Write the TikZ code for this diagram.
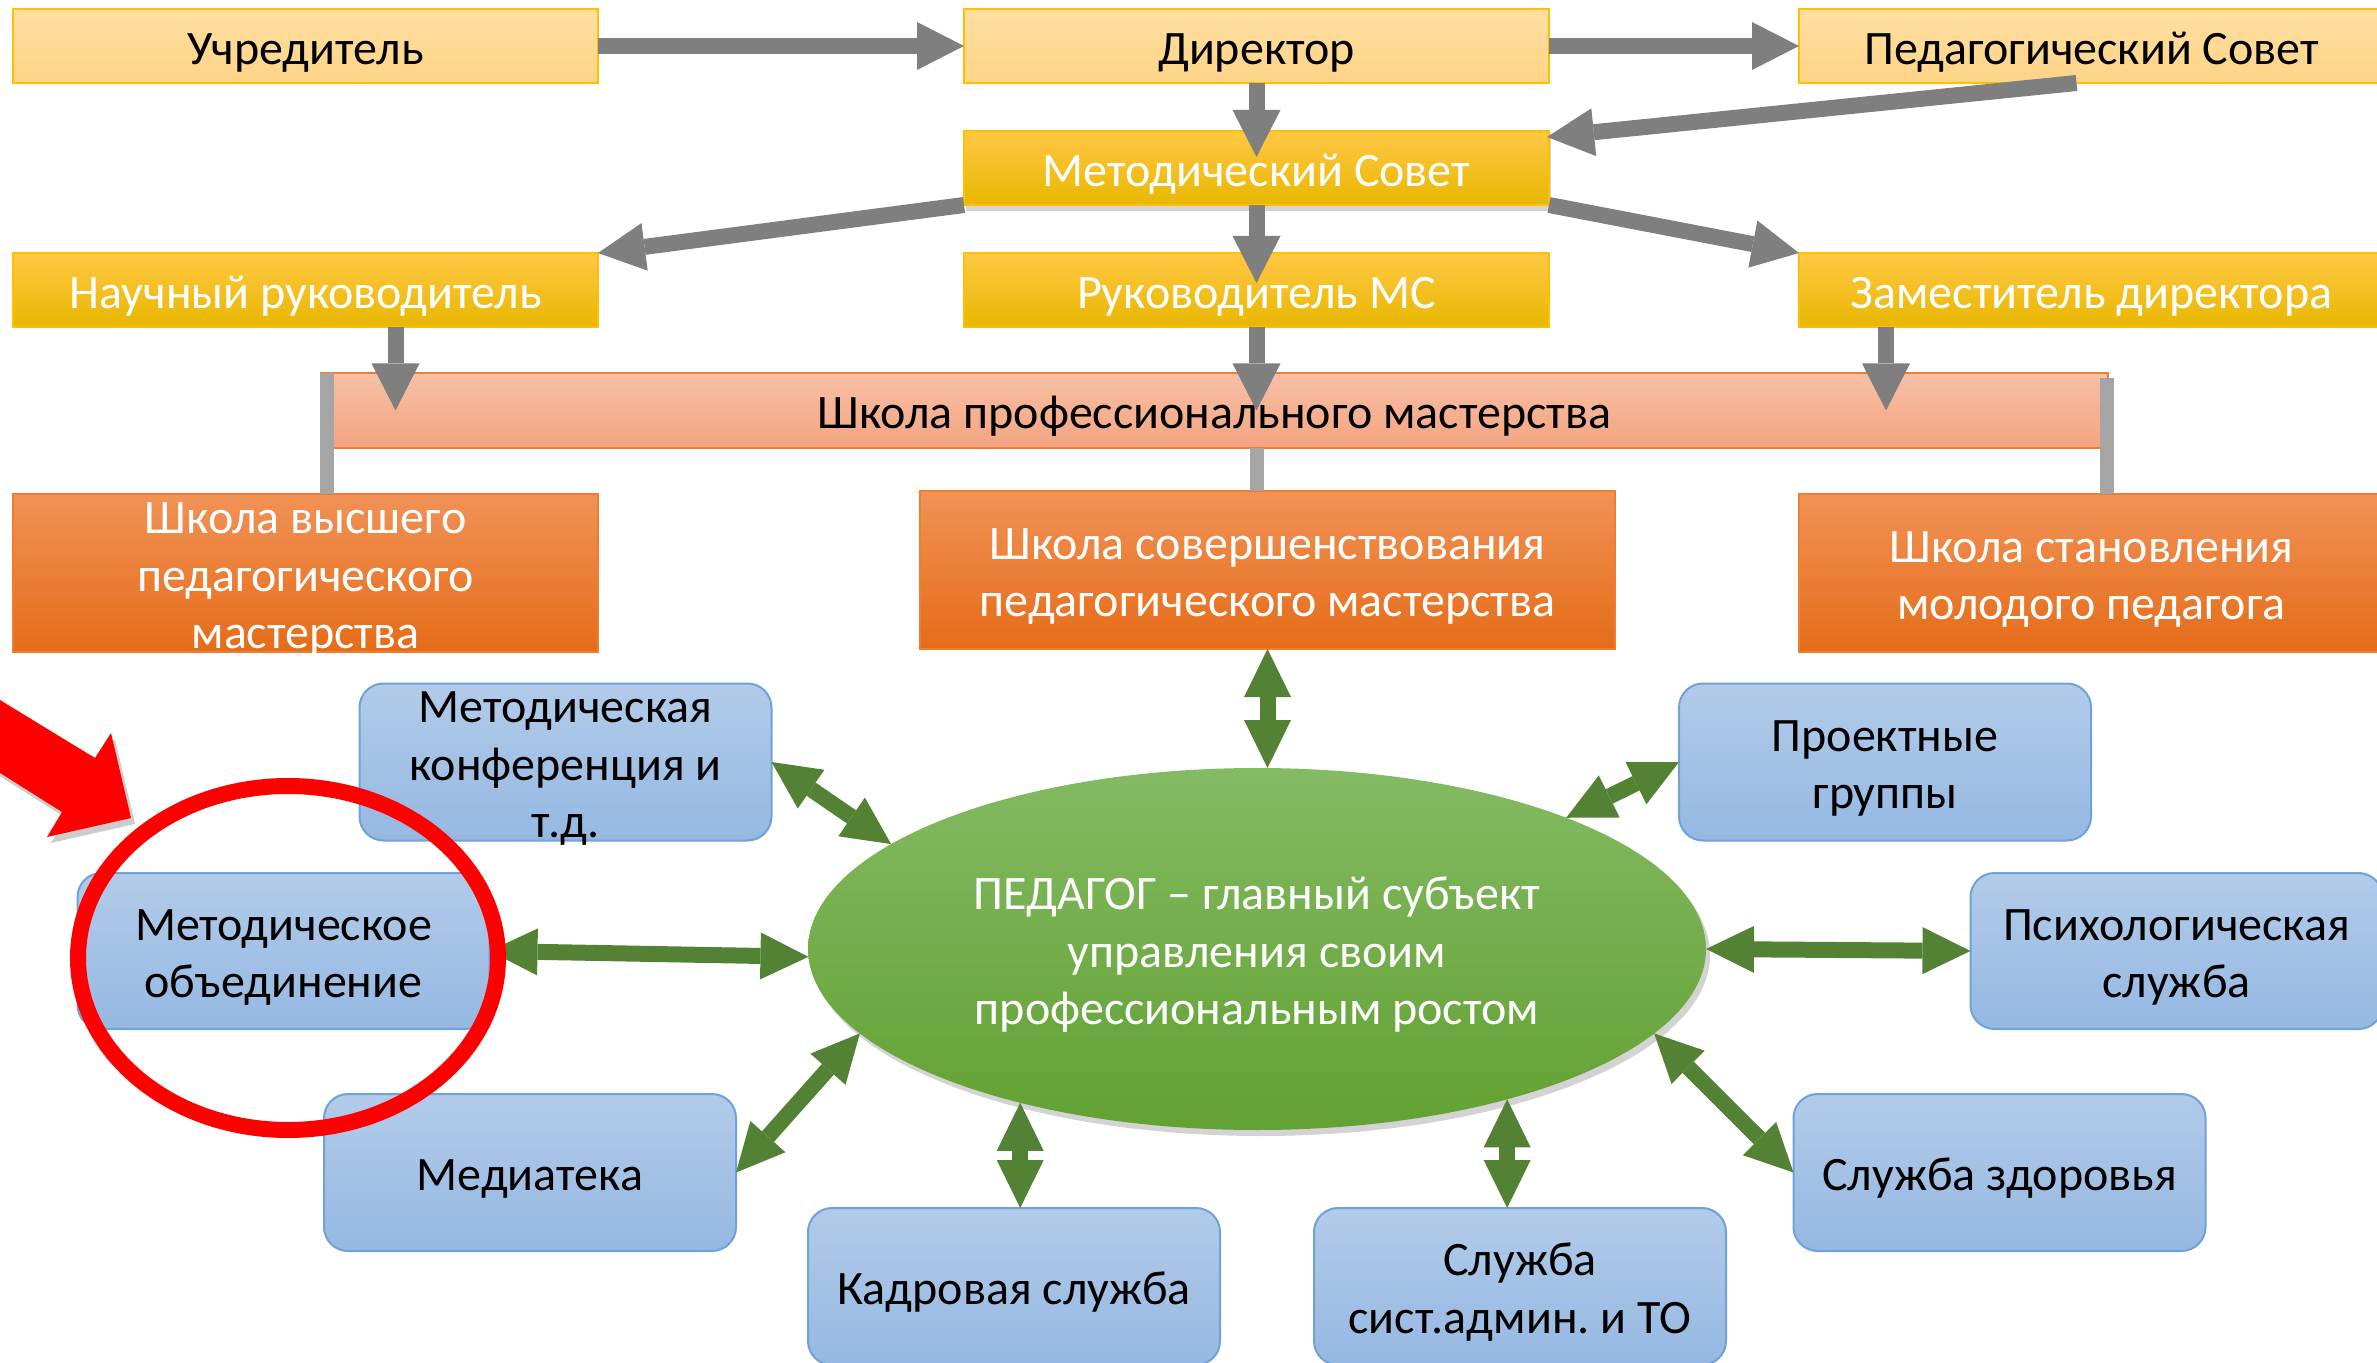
\documentclass[tikz,border=0pt]{standalone}
\usepackage{fontspec}
\setmainfont{Carlito}
\frenchspacing
\usetikzlibrary{arrows.meta,shapes.geometric,shadows,calc}
\definecolor{ltTop}{HTML}{FFDFA2}
\definecolor{ltBot}{HTML}{FED486}
\definecolor{goldB}{HTML}{FFC000}
\definecolor{gdTop}{HTML}{FFC845}
\definecolor{gdMid}{HTML}{FFC000}
\definecolor{gdBot}{HTML}{E8B700}
\definecolor{saTop}{HTML}{F7C0A6}
\definecolor{saBot}{HTML}{F4A47F}
\definecolor{orB}{HTML}{ED7D31}
\definecolor{orTop}{HTML}{F19256}
\definecolor{orMid}{HTML}{F47E2B}
\definecolor{orBot}{HTML}{E56C18}
\definecolor{blTop}{HTML}{B2CBE9}
\definecolor{blBot}{HTML}{95B8E2}
\definecolor{blB}{HTML}{6FA3D8}
\definecolor{grTop}{HTML}{84BA63}
\definecolor{grMid}{HTML}{71B046}
\definecolor{grBot}{HTML}{62A132}
\definecolor{grArr}{HTML}{548235}
\definecolor{gyArr}{HTML}{7F7F7F}
\definecolor{gyBar}{HTML}{A5A5A5}
\definecolor{redHL}{HTML}{FF0000}
\newcommand\tx[1]{\raisebox{-3.3pt}[\dimexpr\height-6pt\relax][\dimexpr\depth-6pt\relax]{\begin{tabular}{@{}c@{}}#1\end{tabular}}}
\begin{document}
\begin{tikzpicture}[x=0.5pt,y=-0.5pt,
  base/.style={rectangle, inner sep=0pt, outer sep=0pt,
    font=\fontsize{24pt}{28.8pt}\selectfont\frenchspacing},
  ltbox/.style={base, minimum width=292.5pt, minimum height=37pt, draw=goldB,
    line width=1pt, top color=ltTop, bottom color=ltBot, text=black},
  gdbox/.style={base, minimum width=292.5pt, minimum height=37pt, draw=goldB,
    line width=1pt, top color=gdTop, middle color=gdMid, bottom color=gdBot, text=white},
  sabox/.style={base, minimum width=893.5pt, minimum height=37.5pt, draw=orB,
    line width=1pt, top color=saTop, bottom color=saBot, text=black},
  orbox/.style={base, minimum width=292.5pt, minimum height=79pt, draw=orB,
    line width=0.8pt, top color=orTop, middle color=orMid, bottom color=orBot, text=white},
  blbox/.style={base, rounded corners=12pt, minimum width=206pt, minimum height=78.5pt,
    draw=blB, line width=1pt, top color=blTop, bottom color=blBot, text=black},
  pedbox/.style={base, ellipse, minimum width=449pt, minimum height=181pt,
    top color=grTop, middle color=grMid, bottom color=grBot, text=white,
    drop shadow={shadow xshift=2pt, shadow yshift=-3pt, opacity=0.35}},
  garr/.style={draw=gyArr, line width=8pt,
    -{Triangle[length=23.5pt,width=24pt,line width=0pt]}},
  grarr/.style={draw=grArr, line width=8pt,
    {Triangle[length=24pt,width=23.5pt,line width=0pt]}-{Triangle[length=24pt,width=23.5pt,line width=0pt]}},
  grbar/.style={draw=gyBar, line width=7pt},
]
\useasboundingbox (0,0) rectangle (2377,1363);
\clip (0,0) rectangle (2377,1363);

% top rows
\node[ltbox] (u) at (305.5,46) {\tx{Учредитель}};
\node[ltbox] (d) at (1256.5,46) {\tx{Директор}};
\node[ltbox] (ps) at (2091.5,46) {\tx{Педагогический Совет}};
\node[gdbox, drop shadow={shadow xshift=1pt, shadow yshift=-3pt, opacity=0.35}] (mc) at (1256.5,168) {\tx{Методический Совет}};
\node[gdbox] (nr) at (305.5,290) {\tx{Научный руководитель}};
\node[gdbox] (rmc) at (1256.5,290) {\tx{Руководитель МС}};
\node[gdbox] (zd) at (2091.5,290) {\tx{Заместитель директора}};
\node[sabox] (spm) at (1214.5,410.5) {\tx{Школа профессионального мастерства}};

% schools
\node[orbox] (svm) at (305.5,573) {\tx{Школа высшего\\педагогического\\мастерства}};
\node[orbox, minimum width=347.5pt] (ssm) at (1267.5,570) {\tx{Школа совершенствования\\педагогического мастерства}};
\node[orbox] (sst) at (2091.5,573) {\tx{Школа становления\\молодого педагога}};

% connectors (gray bars)
\coordinate (spmL) at ($(spm.north west)+(6,0)$);
\coordinate (spmR) at ($(spm.north east)+(-1,5)$);
\draw[grbar] (spmL) -- (spmL |- svm.north);
\draw[grbar] (rmc.south |- spm.south) -- (rmc.south |- ssm.north);
\draw[grbar] (spmR) -- (spmR |- sst.north);

% gray arrows
\coordinate (nrout) at ($(nr.south)+(90,0)$);
\coordinate (zdout) at ($(zd.south)+(-205.5,0)$);
\draw[garr] (u.east) -- (d.west);
\draw[garr] (d.east) -- (ps.west);
\draw[garr] (d.south) -- ($(mc.north)+(0,26)$);
\draw[garr] ($(ps.south)+(-15,0)$) -- ($(mc.north east)+(-2,6)$);
\draw[garr] (mc.south west) -- (nr.north east);
\draw[garr] (mc.south east) -- (zd.north west);
\draw[garr] (mc.south) -- ($(rmc.north)+(0,30)$);
\draw[garr] (rmc.south) -- (rmc.south |- spm.center);
\draw[garr] (nrout) -- (nrout |- spm.center);
\draw[garr] (zdout) -- (zdout |- spm.center);

% blue boxes
\node[blbox] (mk) at (565.5,762) {\tx{Методическая\\конференция и\\т.д.}};
\node[blbox] (pg) at (1885,762) {\tx{Проектные\\группы}};
\node[blbox, minimum height=78pt] (mo) at (283.5,951) {\tx{Методическое\\объединение}};
\node[blbox, minimum height=78pt] (psy) at (2176.5,951) {\tx{Психологическая\\служба}};
\node[blbox] (med) at (530,1172.5) {\tx{Медиатека}};
\node[blbox] (sz) at (1999.5,1172.5) {\tx{Служба здоровья}};
\node[blbox] (ks) at (1014,1286.5) {\tx{Кадровая служба}};
\node[blbox] (sa) at (1520,1286.5) {\tx{Служба\\сист.админ. и ТО}};

% central ellipse
\node[pedbox] (ped) at (1257,949) {\tx{ПЕДАГОГ – главный субъект\\управления своим\\профессиональным ростом}};

% green double arrows
\draw[grarr] (ssm.south) -- (ssm.south |- ped.north);
\draw[grarr] (mk.east) -- (ped.164);
\draw[grarr] (pg.west) -- (ped.23);
\draw[grarr] (mo.east) -- (ped.181);
\draw[grarr] (ped.east) -- (psy.west);
\draw[grarr] (ped.192) -- (med.east);
\draw[grarr] (ped.213) -- (ped.213 |- ks.north);
\draw[grarr] (ped.329) -- (ped.329 |- sa.north);
\draw[grarr] (ped.348) -- (sz.west);

% red highlight
\node[ellipse, draw=redHL, line width=8pt, inner sep=0pt, minimum width=210pt, minimum height=172pt] (hl) at (288,958) {};
\fill[redHL, drop shadow={shadow xshift=2pt, shadow yshift=-3pt, opacity=0.4}]
  (-100,639) -- (95,758) -- (111,733) -- (131,818) -- (47,837) -- (62,812) -- (-100,710) -- cycle;
\end{tikzpicture}
\end{document}
